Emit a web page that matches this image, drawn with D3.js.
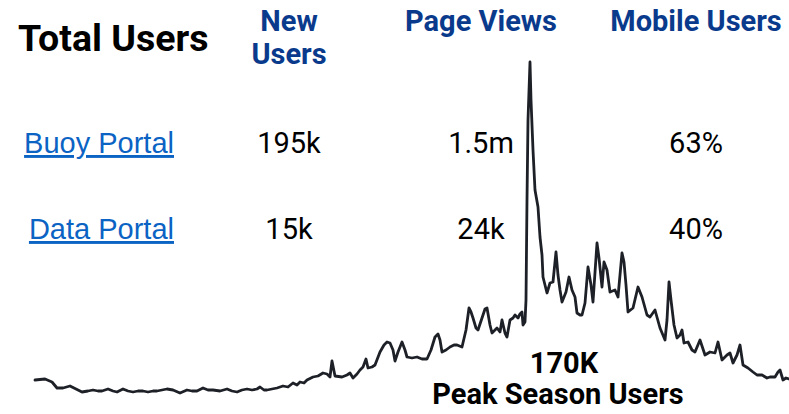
<!DOCTYPE html>
<html>
<head>
<meta charset="utf-8">
<script src="https://cdn.jsdelivr.net/npm/d3@7"></script>
<style>
	html, body { margin: 0; padding: 0; background: #fff; }
	svg { display: block; }
</style>
</head>
<body>
<div id="chart"></div>
<script>
// daily users over the season (day 0 = season start)
const days = [0, 5, 8.5, 11, 14, 17.5, 20.5, 23.5, 26.5, 29, 31.5, 33.5, 36.5, 39, 41, 44, 46.5, 49, 51.5, 54,
	56.5, 59, 61, 63.5, 66, 69, 72.5, 76, 78.5, 81, 84, 86.5, 89, 92.5, 96, 98.5, 101, 103.5, 106, 108.5,
	111, 112.5, 114.5, 116, 118.5, 121, 124, 126.5, 129, 131, 132.5, 134.5, 136, 139, 141.5, 144, 146, 147.5, 148.5, 150,
	153.5, 156, 157.5, 159, 161, 162.5, 164, 165.5, 166.5, 168.5, 170, 172.5, 174.5, 176, 177.5, 179, 180, 181.5, 183.5, 185,
	186, 188.5, 191, 193.5, 196, 198, 200, 201.5, 202.5, 203.5, 205.5, 207.5, 209.5, 211, 213.5, 215.5, 217, 218, 219, 220.5,
	221.5, 223.5, 225, 226, 227.5, 228.5, 231, 232.5, 233.5, 235, 236, 237.5, 239, 240, 241.5, 242.5, 243.5, 244, 245, 245.5,
	246, 246.5, 247.5, 248, 249, 250, 251.5, 252.5, 253.5, 254, 255, 256, 257.5, 259, 260.5, 261.5, 262.5, 263.5, 265.5, 267,
	268.5, 270, 271, 272.5, 273.5, 275, 276.5, 278, 279, 281, 282, 283.5, 284.5, 286, 287.5, 290, 291.5, 293.5, 294.5, 295.5,
	296.5, 299, 301.5, 303.5, 306, 307.5, 310, 312.5, 315, 316, 317, 318, 319.5, 321, 322.5, 323.5, 324.5, 326.5, 328.5, 330,
	332.5, 335, 337.5, 340, 341.5, 343.5, 346, 347.5, 349, 351, 352.5, 354, 356.5, 359, 361, 363.5, 366, 367.5, 370, 371.5,
	372.5, 374, 375.5, 377];
const users = [500, 525, 450, 300, 300, 350, 275, 200, 225, 250, 225, 225, 275, 225, 200, 275, 225, 200, 225, 225,
	200, 225, 225, 250, 275, 250, 175, 250, 225, 225, 300, 250, 250, 225, 275, 225, 200, 250, 275, 250,
	275, 325, 250, 250, 275, 300, 350, 325, 425, 375, 450, 425, 500, 575, 600, 675, 650, 575, 975, 600,
	575, 625, 675, 550, 650, 750, 825, 1025, 800, 825, 875, 1200, 1375, 1450, 1425, 1250, 975, 1200, 1450, 1250,
	1075, 1050, 1075, 1025, 1025, 1250, 1575, 1650, 1500, 1200, 1250, 1325, 1375, 1375, 1325, 1750, 2300, 2200, 2050, 1800,
	1750, 2050, 2275, 2300, 1875, 1675, 1800, 1700, 2000, 1675, 1575, 2000, 2050, 2125, 2050, 2150, 2200, 1875, 1950, 2500,
	5000, 7000, 8450, 7500, 6250, 5250, 4825, 4075, 3625, 3075, 2875, 2675, 2925, 2950, 3700, 3125, 2750, 2450, 2700, 3075,
	2750, 2575, 2175, 2125, 2125, 2425, 3325, 2875, 2450, 3925, 3550, 2825, 3450, 3250, 2700, 2750, 2575, 3675, 3450, 2875,
	2200, 2300, 2825, 2575, 2125, 2075, 2250, 1800, 1500, 2000, 2950, 2500, 1875, 1550, 1625, 1750, 1425, 1450, 1250, 1200,
	1500, 1125, 1200, 1175, 1450, 1000, 1125, 1175, 925, 1125, 1375, 875, 800, 700, 625, 625, 550, 575, 575, 700,
	750, 500, 550, 525];

const columns = ["New Users", "Page Views", "Mobile Users"];
const portals = ["Buoy Portal", "Data Portal"];
const newUsers = ["195k", "15k"];
const pageViews = ["1.5m", "24k"];
const mobileUsers = ["63%", "40%"];
const title = "Total Users";
const peakValue = "170K";
const peakLabel = "Peak Season Users";

const width = 789, height = 414;
const blue = "#0a3a8c", link = "#0b63c4", ink = "#1d2027";
const sans = "Roboto, 'Liberation Sans', sans-serif";

const svg = d3.select("#chart")
	.append("svg")
	.attr("width", width)
	.attr("height", height);

// the traffic line sits behind the table
const x = d3.scaleLinear().domain([0, 377]).range([35, 789]);
const y = d3.scaleLinear().domain([0, 8500]).range([400, 60]);

const line = d3.line()
	.x((d, i) => x(days[i]))
	.y(d => y(d));

svg.append("path")
	.datum(users)
	.attr("fill", "none")
	.attr("stroke", ink)
	.attr("stroke-width", 2.8)
	.attr("stroke-linejoin", "round")
	.attr("stroke-linecap", "round")
	.attr("d", line);

// table layout, columns are not evenly spaced
const colX = d3.scaleOrdinal().domain(columns).range([289, 481, 696]);
const rowY = d3.scalePoint().domain(portals).range([153, 239]);

svg.append("text")
	.attr("x", 18)
	.attr("y", 51)
	.attr("font-family", sans)
	.attr("font-weight", 700)
	.attr("font-size", 37.5)
	.attr("fill", "#000")
	.text(title);

const heads = svg.selectAll(".head")
	.data(columns).enter()
	.append("text")
	.attr("class", "head")
	.attr("x", d => colX(d))
	.attr("y", 31)
	.attr("text-anchor", "middle")
	.attr("font-family", sans)
	.attr("font-weight", 700)
	.attr("font-size", 29)
	.attr("fill", blue);

// "New Users" wraps onto two lines
heads.each(function(d, i) {
	const t = d3.select(this);
	if (i == 0) {
		d.split(" ").forEach((w, j) => {
			t.append("tspan").attr("x", colX(d)).attr("dy", j ? 33 : 0).text(w);
		});
	}
	else {
		t.text(d);
	}
});

svg.selectAll(".portal")
	.data(portals).enter()
	.append("text")
	.attr("class", "portal")
	.attr("x", 174)
	.attr("y", d => rowY(d))
	.attr("text-anchor", "end")
	.attr("font-family", "'Liberation Sans', Arial, sans-serif")
	.attr("font-size", 29)
	.attr("fill", link)
	.attr("text-decoration", "underline")
	.text(d => d);

const cells = [newUsers, pageViews, mobileUsers];
cells.forEach((vals, c) => {
	svg.selectAll(".cell" + c)
		.data(vals).enter()
		.append("text")
		.attr("class", "cell" + c)
		.attr("x", colX(columns[c]))
		.attr("y", (d, r) => rowY(portals[r]))
		.attr("text-anchor", "middle")
		.attr("font-family", sans)
		.attr("font-size", 29)
		.attr("fill", "#000")
		.text(d => d);
});

svg.append("text")
	.attr("x", 564)
	.attr("y", 373)
	.attr("text-anchor", "middle")
	.attr("font-family", sans)
	.attr("font-weight", 700)
	.attr("font-size", 29)
	.attr("fill", "#000")
	.text(peakValue);

svg.append("text")
	.attr("x", 558)
	.attr("y", 404)
	.attr("text-anchor", "middle")
	.attr("font-family", sans)
	.attr("font-weight", 700)
	.attr("font-size", 29)
	.attr("fill", "#000")
	.text(peakLabel);
</script>
</body>
</html>
